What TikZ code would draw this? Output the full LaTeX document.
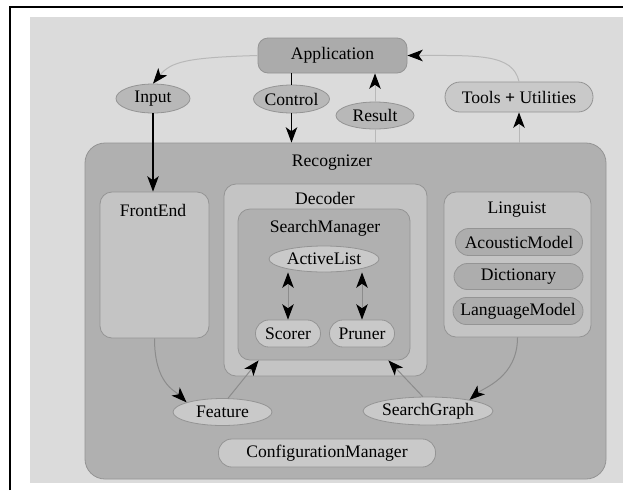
\documentclass[tikz,border=0pt]{standalone}
\usepackage{fontspec}
\setmainfont{Liberation Serif}
\usetikzlibrary{arrows.meta,calc,shapes.geometric}

\definecolor{pagebg}{gray}{0.86}
\definecolor{outerfill}{gray}{0.69}
\definecolor{innerfill}{gray}{0.77}
\definecolor{appfill}{gray}{0.67}
\definecolor{midfill}{gray}{0.72}
\definecolor{lightfill}{gray}{0.79}
\definecolor{modelfill}{gray}{0.68}
\definecolor{edgeline}{gray}{0.55}
\definecolor{paleline}{gray}{0.72}
\definecolor{rim}{gray}{0.58}
\definecolor{ink}{gray}{0.0}

\tikzset{
  sz/.style 2 args={minimum width=#1*0.75pt, minimum height=#2*0.75pt},
  base/.style={draw=rim, line width=0.6pt, inner sep=0pt, text=ink},
  cluster/.style={base, rectangle, rounded corners=9pt},
  oval/.style={base, ellipse},
  pill/.style={base, rectangle, rounded corners=10pt},
  lbl/.style={inner sep=0pt, text=ink},
  >={Stealth[length=11.5pt,width=8.6pt,inset=3pt,black]},
  gedge/.style={draw=edgeline, line width=0.75pt},
  pedge/.style={draw=paleline, line width=0.75pt},
  bedge/.style={draw=black, line width=0.9pt},
}

\begin{document}
\begin{tikzpicture}[x=0.75pt, y=-0.75pt, font=\fontsize{13.2}{15}\selectfont]
  \useasboundingbox (0,0) rectangle (623,490);
  \fill[white] (0,0) rectangle (623,490);
  \fill[pagebg] (30,17) rectangle (623,483);
  \draw[black, line width=1.5pt] (10,490) -- (10,7) -- (623,7);

  % clusters
  \node[cluster, fill=outerfill, sz={521}{336}, rounded corners=15pt] (recog) at (345.5,311) {};
  \node[lbl] (recogL) at (332,163) {Recognizer};
  \node[cluster, fill=innerfill, sz={109}{146}] (fe) at (154.5,265) {};
  \node[lbl] (feL) at (153,210) {FrontEnd};
  \node[cluster, fill=innerfill, sz={203}{192}] (dec) at (325.5,280) {};
  \node[lbl] (decL) at (325,198) {Decoder};
  \node[cluster, fill=outerfill, sz={172}{151}] (sm) at (324,284.5) {};
  \node[lbl] (smL) at (325,228) {SearchManager};
  \node[cluster, fill=innerfill, sz={147}{145}] (ling) at (517.5,264.5) {};
  \node[lbl] (lingL) at (517,210) {Linguist};

  % top row
  \node[base, rectangle, rounded corners=7.5pt, fill=appfill, sz={149}{35}] (app) at (332.5,55.5) {Application};
  \node[oval, fill=midfill, sz={74}{29}] (input) at (153,98.5) {Input};
  \node[oval, fill=midfill, sz={75}{28}] (control) at (291.5,99) {Control};
  \node[oval, fill=midfill, sz={78}{27}] (result) at (375,115.5) {Result};
  \node[pill, fill=lightfill, sz={148}{30}, rounded corners=11.25pt] (tools) at (519,97) {Tools \textbf{+} Utilities};

  % search manager content
  \node[oval, fill=lightfill, sz={110}{26}] (al) at (324,259) {ActiveList};
  \node[pill, fill=lightfill, sz={65}{27}] (scorer) at (288,333.5) {Scorer};
  \node[pill, fill=lightfill, sz={65}{27}] (pruner) at (362,333.5) {Pruner};

  % linguist content
  \node[pill, fill=modelfill, sz={127}{27}] (am) at (519,242) {AcousticModel};
  \node[pill, fill=modelfill, sz={129}{26}] (dict) at (518.5,276.5) {Dictionary};
  \node[pill, fill=modelfill, sz={130}{27}] (lm) at (518,311) {LanguageModel};

  % lower row
  \node[oval, fill=lightfill, sz={99}{27}] (feature) at (222.5,412) {Feature};
  \node[oval, fill=lightfill, sz={124}{28}] (sg) at (428,411) {SearchGraph};
  \node[pill, fill=lightfill, sz={217}{28}] (cfg) at (327,453) {ConfigurationManager};

  % connectors
  \draw[pedge, ->] (app.west) .. controls +(-70,2) and +(18,-22) .. (input.north);
  \draw[bedge] (control.north |- app.south) -- (control.north);
  \draw[bedge, ->] (control.south) -- (control.south |- recog.north);
  \draw[bedge, ->] (input.south) -- (input.south |- fe.north);
  \draw[pedge] (result.south |- recog.north) -- (result.south);
  \draw[pedge, ->] (result.north) -- (result.north |- app.south);
  \draw[pedge, ->] (tools.south |- recog.north) -- (tools.south);
  \draw[pedge, ->] (tools.north) .. controls +(-6,-28) and +(70,0) .. (app.east);

  \draw[gedge, <->] (scorer.north |- al.south) -- (scorer.north);
  \draw[gedge, <->] (pruner.north |- al.south) -- (pruner.north);

  \draw[gedge, ->] (fe.south) .. controls +(0,45) and +(-12,-12) .. (feature.165);
  \coordinate (smIn1) at ($(sm.south west)+(21,0)$);
  \coordinate (smIn2) at ($(sm.south east)+(-22,0)$);
  \draw[gedge, ->] (feature.68) -- (smIn1);
  \draw[gedge, ->] (sg.110) -- (smIn2);
  \draw[gedge, ->] (ling.south) .. controls +(0,40) and +(14,-12) .. (sg.15);
\end{tikzpicture}
\end{document}
